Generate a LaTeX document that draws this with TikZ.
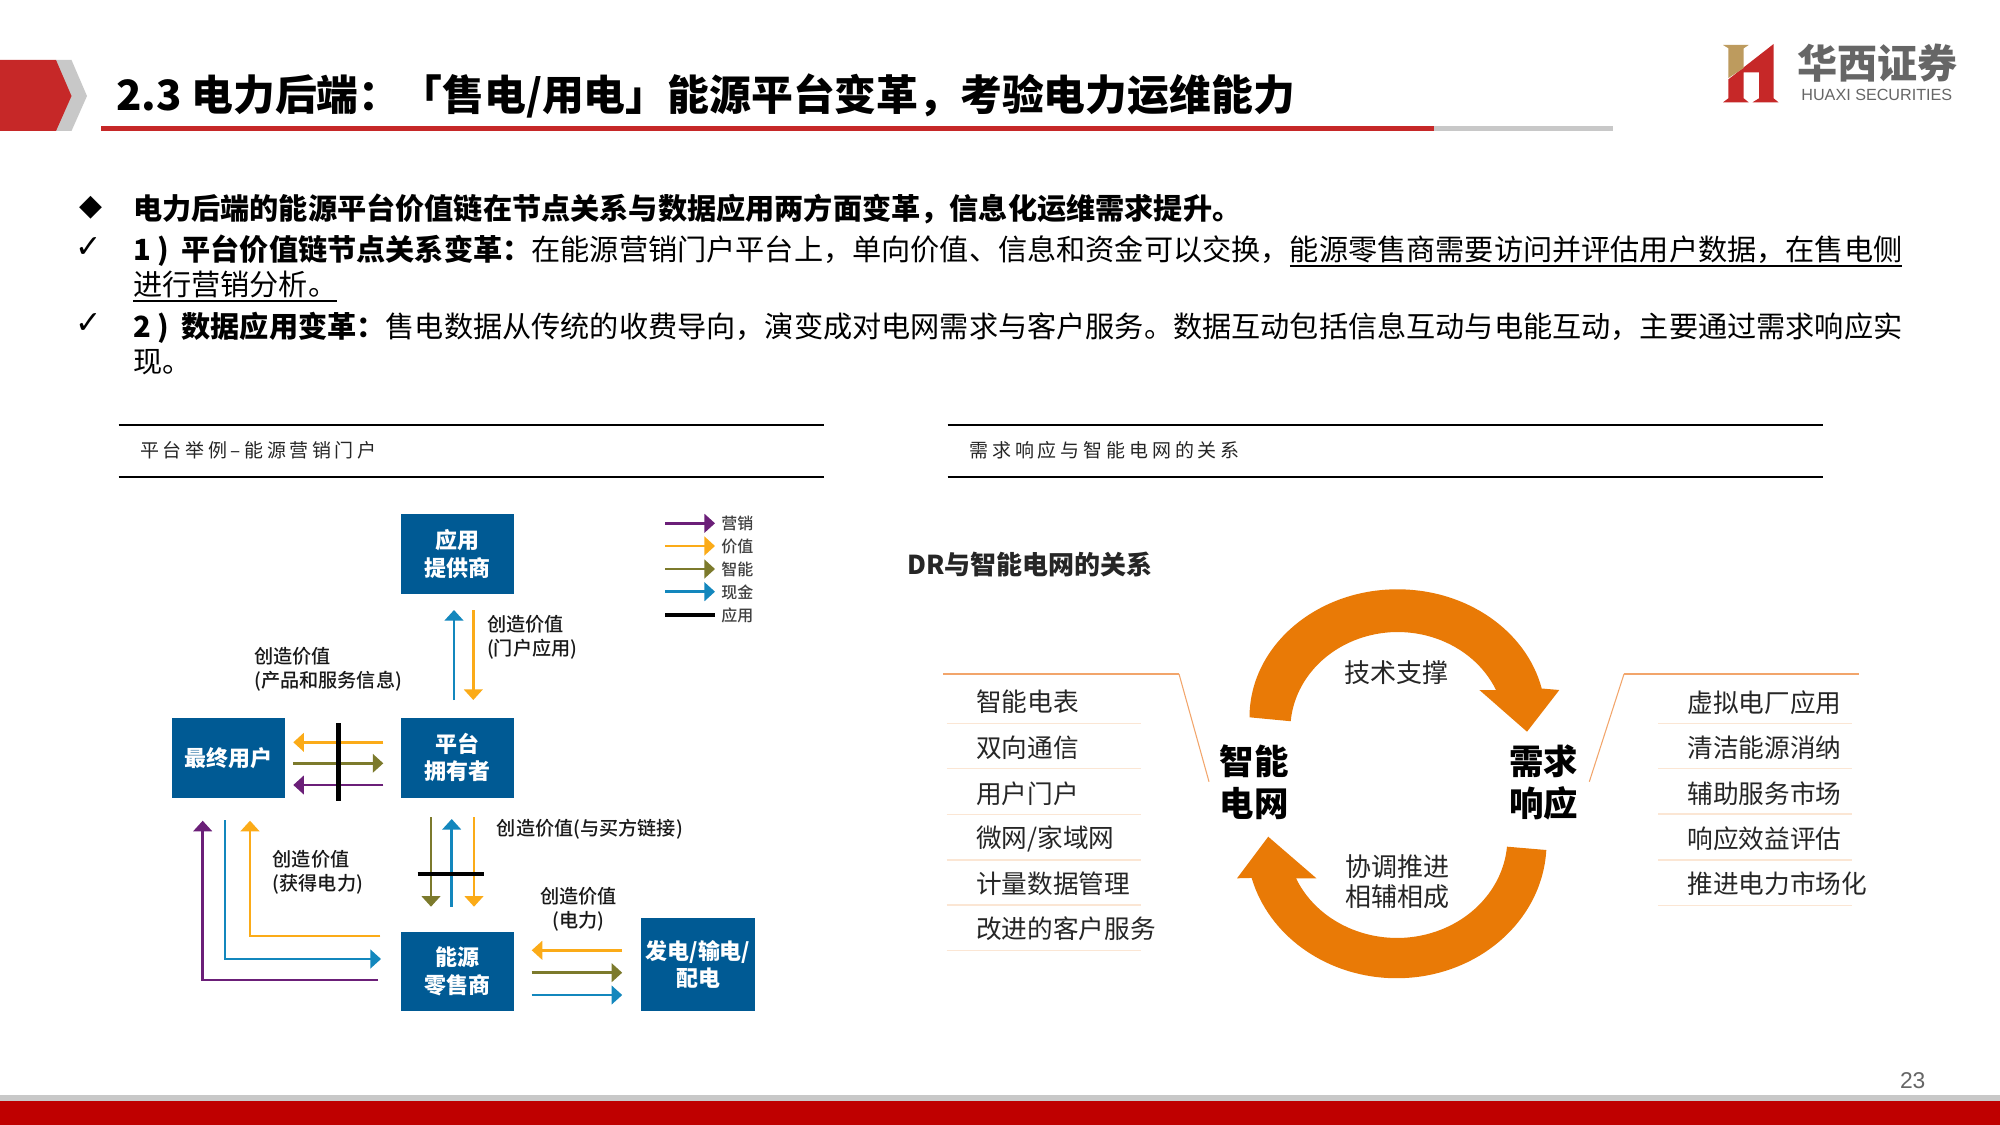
\documentclass[tikz,border=0pt]{standalone}
\usepackage{fontspec}
\setmainfont{Noto Sans CJK SC}
\newfontfamily\symfont{DejaVu Sans}
\newfontfamily\logofont{Liberation Sans}
\newfontfamily\medfont{Noto Sans CJK SC Medium}
\newfontfamily\capfont[LetterSpace=19]{Noto Sans CJK SC}
\newfontfamily\capfontb[LetterSpace=20.5]{Noto Sans CJK SC}
\usepackage{tikz}
\usetikzlibrary{positioning, arrows, arrows.meta}
\definecolor{hxred}{HTML}{C62828}
\definecolor{hxgray}{HTML}{C8C8C8}
\definecolor{hxgold}{HTML}{BD9B5E}
\definecolor{boxblue}{HTML}{005A94}
\definecolor{cashblue}{HTML}{1387BD}
\definecolor{valorange}{HTML}{FBAB18}
\definecolor{smartolive}{HTML}{7C7A2C}
\definecolor{mktpurple}{HTML}{6B1F78}
\definecolor{cycorange}{HTML}{E97A06}
\definecolor{listline}{HTML}{F2A56B}
\definecolor{listfaint}{HTML}{FBE6D4}
\newcommand{\ultext}[1]{\setbox0\hbox{#1}\rlap{\rule[-0.2em]{\wd0}{0.06em}}\box0}
\tikzset{
  txt/.style={anchor=west, inner sep=0pt, text=black},
  bodyline/.style={txt, font=\fontsize{16.6}{20}\selectfont},
  capline/.style={txt, font=\fontsize{10.8}{13}\selectfont, text=black!85},
  rulethin/.style={line width=1.1pt, black},
  bluebox/.style={fill=boxblue, text=white, align=center, inner sep=0pt,
    font=\fontsize{12.5}{15.6}\selectfont\bfseries},
  flowlabel/.style={anchor=west, inner sep=0pt, align=left, text=black!90,
    font=\medfont\fontsize{10.9}{13.8}\selectfont},
  legendtext/.style={txt, text=black!75, font=\medfont\fontsize{9.1}{11}\selectfont},
  flow/.style={line width=1.4pt, -{Triangle[length=6pt,width=10.5pt]}},
  applbar/.style={line width=2.8pt, black},
  listitem/.style={txt, text=black!85, font=\fontsize{14.6}{17}\selectfont},
  listrule/.style={line width=0.8pt, listfaint},
  listtop/.style={line width=1pt, listline},
  listlink/.style={line width=0.6pt, listline},
  cyctext/.style={align=center, inner sep=0pt, text=black!85,
    font=\fontsize{14.8}{17.2}\selectfont},
  cycnode/.style={align=center, inner sep=0pt, text=black,
    font=\fontsize{19.6}{23.7}\selectfont\bfseries}
}
\begin{document}
\begin{tikzpicture}[x=0.02cm, y=-0.02cm]
\useasboundingbox (0,0) rectangle (2000,1125);
\fill[white] (0,0) rectangle (2000,1125);

% Title band
\fill[hxgray] (56,60) -- (71.5,60) -- (87,96) -- (71.5,131) -- (56,131) -- cycle;
\fill[hxred] (0,60) -- (56,60) -- (71.5,96) -- (56,131) -- (0,131) -- cycle;
\fill[hxgray] (100.5,126) rectangle (1613,130.7);
\fill[hxred] (100.5,126) rectangle (1434,130.7);
\node[txt, font=\fontsize{23.8}{28}\selectfont\bfseries] (title) at (116,96)
  {2.3 电力后端：「售电/用电」能源平台变革，考验电力运维能力};

% Logo
\fill[hxred] (1728.4,79.3) -- (1773.6,44) -- (1773.6,98.3) -- (1778.5,102.3) -- (1752.5,102.3)
  -- (1759,98.3) -- (1759,72.3) -- (1743.7,72.3) -- (1743.7,98.3) -- (1748.7,102.3) -- (1723,102.3)
  -- (1728.4,98.3) -- cycle;
\fill[hxgold] (1723,45) -- (1748.7,45) -- (1743.7,48.3) -- (1743.7,68) -- (1728.4,78) -- (1728.4,48.3) -- cycle;
\node[txt, text=black!60, font=\fontsize{22.8}{25}\selectfont\bfseries] (logocn) at (1797,63) {华西证券};
\node[txt, text=black!60, font=\logofont\fontsize{9.2}{11}\selectfont] (logoen) at (1801,95) {HUAXI SECURITIES};

% Text block
\node[anchor=center, inner sep=0pt, font=\symfont\fontsize{17}{20}\selectfont] (mark0) at (91,208) {◆};
\node[anchor=center, inner sep=0pt, font=\symfont\fontsize{18}{20}\selectfont] (mark1) at (89,248) {✓};
\node[anchor=center, inner sep=0pt, font=\symfont\fontsize{18}{20}\selectfont] (mark2) at (89,324) {✓};
\node[bodyline, font=\fontsize{16.6}{20}\selectfont\bfseries] (row0) at (132.7,208.5)
  {电力后端的能源平台价值链在节点关系与数据应用两方面变革，信息化运维需求提升。};
\node[bodyline] (row1) at (132.7,251)
  {\textbf{1 ) \hspace{0.2em}平台价值链节点关系变革：}在能源营销门户平台上，单向价值、信息和资金可以交换，\ultext{能源零售商需要访问并评估用户数据，在售电侧}};
\node[bodyline] (row1b) at (132.7,286.5) {\ultext{进行营销分析。}};
\node[bodyline] (row2) at (132.7,327.5)
  {\textbf{2 ) \hspace{0.2em}数据应用变革：}售电数据从传统的收费导向，演变成对电网需求与客户服务。数据互动包括信息互动与电能互动，主要通过需求响应实};
\node[bodyline] (row2b) at (132.7,362) {现。};

% Panel captions
\draw[rulethin] (118.6,424.7) -- (824,424.7);
\draw[rulethin] (118.6,477) -- (824,477);
\node[capline, font=\capfont\fontsize{10.8}{13}\selectfont] (capl) at (140,450.5) {平台举例–能源营销门户};
\draw[rulethin] (947.7,424.7) -- (1822.7,424.7);
\draw[rulethin] (947.7,477) -- (1822.7,477);
\node[capline, font=\capfontb\fontsize{10.8}{13}\selectfont] (capr) at (969,450.5) {需求响应与智能电网的关系};

% Value chain boxes
\node[bluebox, minimum width=2.26cm, minimum height=1.6cm] (appsup) at (457.5,554) {应用\\提供商};
\node[bluebox, minimum width=2.26cm, minimum height=1.6cm] (owner) at (457.5,757.7) {平台\\拥有者};
\node[bluebox, minimum width=2.26cm, minimum height=1.6cm] (enduser) at (228.2,757.7) {最终用户};
\node[bluebox, minimum width=2.26cm, minimum height=1.58cm] (retailer) at (457.5,971.5) {能源\\零售商};
\node[bluebox, minimum width=2.29cm, minimum height=1.85cm] (power) at (698,964.6) {发电/输电/\\配电};

% Free ends of the flows
\foreach \nm/\px/\py in {
  a1/454/700, a2/454/610, a3/473.3/610, a4/473.3/700,
  b1/383.3/742.3, b2/293.3/742.3, b3/293.3/763.3, b4/383.3/763.3, b5/383.3/785, b6/293.3/785,
  b7/338.7/723, b8/338.7/801,
  c1/431/817.3, c2/431/906.7, c3/451.7/906.7, c4/451.7/819, c5/474/817.3, c6/474/906.7,
  c7/417.6/874, c8/484.4/874,
  d1/378.2/980, d2/202.7/820.7, d3/225/820, d4/381/959, d5/380.3/936, d6/250/820.7,
  e1/622.2/950.3, e2/531.7/950.3, e3/531.7/972.7, e4/622.2/972.7, e5/531.7/995, e6/622.2/995,
  k1/665/523.3, k2/715/523.3, k3/665/546, k4/715/546, k5/665/569, k6/715/569,
  k7/665/591.7, k8/715/591.7, k9/665/615, k10/715/615}
  \coordinate (\nm) at (\px,\py);

% Flows between the boxes
\draw[flow, cashblue] (a1) -- (a2);
\draw[flow, valorange] (a3) -- (a4);
\draw[flow, valorange] (b1) -- (b2);
\draw[flow, smartolive] (b3) -- (b4);
\draw[flow, mktpurple] (b5) -- (b6);
\draw[applbar] (b7) -- (b8);
\draw[flow, smartolive] (c1) -- (c2);
\draw[flow, cashblue] (c3) -- (c4);
\draw[flow, valorange] (c5) -- (c6);
\draw[applbar] (c7) -- (c8);
\draw[flow, mktpurple] (d1) -| (d2);
\draw[flow, cashblue] (d3) |- (d4);
\draw[flow, valorange] (d5) -| (d6);
\draw[flow, valorange] (e1) -- (e2);
\draw[flow, smartolive] (e3) -- (e4);
\draw[flow, cashblue] (e5) -- (e6);

% Flow labels
\node[flowlabel] (lab1) at (486.7,637) {创造价值\\(门户应用)};
\node[flowlabel] (lab2) at (254,669) {创造价值\\(产品和服务信息)};
\node[flowlabel] (lab3) at (496.5,829) {创造价值(与买方链接)};
\node[flowlabel] (lab4) at (272.4,872) {创造价值\\(获得电力)};
\node[flowlabel, anchor=center, align=center] (lab5) at (578.6,909) {创造价值\\(电力)};

% Legend
\draw[flow, mktpurple] (k1) -- (k2);
\draw[flow, valorange] (k3) -- (k4);
\draw[flow, smartolive] (k5) -- (k6);
\draw[flow, cashblue] (k7) -- (k8);
\draw[applbar] (k9) -- (k10);
\node[legendtext] (leg1) at (721,523.8) {营销};
\node[legendtext] (leg2) at (721,546.5) {价值};
\node[legendtext] (leg3) at (721,569.5) {智能};
\node[legendtext] (leg4) at (721,592.2) {现金};
\node[legendtext] (leg5) at (721,615) {应用};

% DR heading
\node[txt, text=black!85, font=\fontsize{14.8}{18}\selectfont\bfseries] (drhead) at (907,564.5) {DR与智能电网的关系};

% Cycle arrows
\fill[cycorange] (1249.5,717.3) arc[start angle=180, end angle=347, x radius=148, y radius=128]
  -- (1559.3,690) -- (1527,731.7) -- (1479.4,690) -- (1496,690)
  arc[start angle=336, end angle=185, x radius=107.5, y radius=97.7] -- cycle;
\fill[cycorange] (1546.3,850) arc[start angle=3, end angle=165, x radius=150, y radius=135.3]
  -- (1237,878.3) -- (1268.2,836.7) -- (1316.4,878.3) -- (1296,878.3)
  arc[start angle=156.2, end angle=5, x radius=110.4, y radius=100] -- cycle;
\node[cycnode] (grid) at (1254,782.5) {智能\\电网};
\node[cycnode] (dresp) at (1543.7,782.5) {需求\\响应};
\node[cyctext] (tech) at (1396.8,673) {技术支撑};
\node[cyctext] (coord) at (1397.7,881.5) {协调推进\\相辅相成};

% Left list
\draw[listtop] (943,674) -- (1179,674);
\draw[listlink] (1179,674) -- (1209,781.7);
\foreach \ya in {723.3,768.7,814.3,860,905,950.3}
  \draw[listrule] (946.8,\ya) -- (1140.5,\ya);
\node[listitem] (gl1) at (975.8,702) {智能电表};
\node[listitem] (gl2) at (975.8,747.7) {双向通信};
\node[listitem] (gl3) at (975.8,793.3) {用户门户};
\node[listitem] (gl4) at (975.8,838.7) {微网/家域网};
\node[listitem] (gl5) at (975.8,883.5) {计量数据管理};
\node[listitem] (gl6) at (975.8,928.5) {改进的客户服务};

% Right list
\draw[listtop] (1624,674) -- (1859.3,674);
\draw[listlink] (1624,674) -- (1589.3,781.7);
\foreach \ya in {723.3,768.3,814,860,905.3}
  \draw[listrule] (1658.3,\ya) -- (1851.7,\ya);
\node[listitem] (dl1) at (1687.3,703) {虚拟电厂应用};
\node[listitem] (dl2) at (1687.3,748) {清洁能源消纳};
\node[listitem] (dl3) at (1687.3,793.3) {辅助服务市场};
\node[listitem] (dl4) at (1687.3,839) {响应效益评估};
\node[listitem] (dl5) at (1687.3,884) {推进电力市场化};

% Footer
\fill[hxgray] (0,1095) rectangle (2000,1101);
\fill[red!75!black] (0,1101) rectangle (2000,1125);
\node[inner sep=0pt, text=black!60, font=\logofont\fontsize{13}{15}\selectfont] (pageno) at (1912.7,1081) {23};
\end{tikzpicture}
\end{document}
